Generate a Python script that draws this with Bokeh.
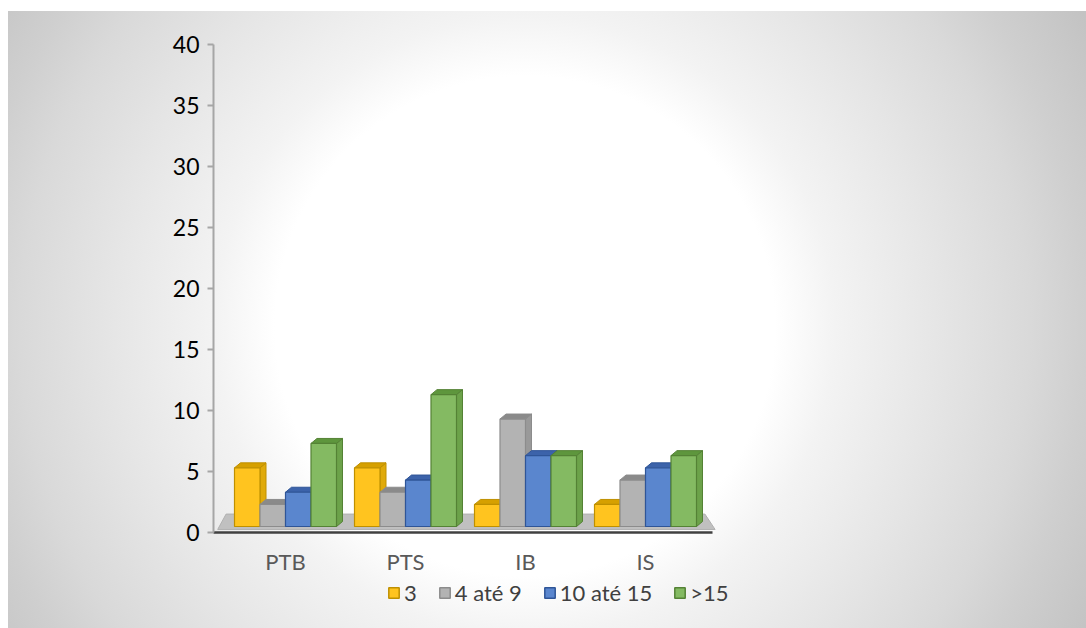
import numpy as np
from bokeh.plotting import figure
from bokeh.layouts import column
from bokeh.models import Range1d, FixedTicker, Legend, LegendItem, ColumnDataSource
from bokeh.embed import file_html
from bokeh.resources import INLINE

# ---- data ----
categories = ["PTB", "PTS", "IB", "IS"]
series_names = ["3", "4 até 9", "10 até 15", ">15"]
vals_3 = [5, 5, 2, 2]
vals_4_9 = [2, 3, 9, 4]
vals_10_15 = [3, 4, 6, 5]
vals_gt15 = [7, 11, 6, 6]
y_ticks = [0, 5, 10, 15, 20, 25, 30, 35, 40]

series_values = [vals_3, vals_4_9, vals_10_15, vals_gt15]

# ---- styles ----
front_colors = ["#FFC41F", "#B3B3B3", "#5A86CE", "#84BA62"]
top_colors = ["#D6A000", "#8A8A8A", "#3C63AA", "#5E963D"]
side_colors = ["#E0AA0A", "#999999", "#4670B8", "#6CA24A"]
line_colors = ["#BF9000", "#8C8C8C", "#2F5597", "#548235"]
FONT = "Lato"

BAR_W = 0.2125       # width of a bar in category units
DX, DY = 0.05, 0.41  # oblique depth offset (x units, y units)
BASE = 0.49          # front-face floor level
TOP_PAD = 0.3
PX_PER_CAT = 120.0
X0 = -0.6
FRAME_W = 590
BL, BR = 205, 1078 - 205 - FRAME_W

p = figure(width=1078, height=579, output_backend="svg", toolbar_location=None,
           x_range=Range1d(X0, X0 + FRAME_W / PX_PER_CAT), y_range=Range1d(0, 40),
           min_border_left=BL, min_border_right=BR, min_border_top=33, min_border_bottom=58,
           background_fill_color=None, border_fill_color=None, outline_line_color=None)
p.grid.visible = False

n = len(categories)
centers = np.arange(n, dtype=float)

# floor plane
fl_left = centers[0] - 2 * BAR_W - 0.07
fl_right = centers[-1] + 2 * BAR_W + 0.07
p.patch([fl_left, fl_right, fl_right + 0.085, fl_left - 0.07],
        [BASE + 0.2 + DY * 2, BASE + 0.2 + DY * 2, 0.25, 0.25],
        fill_color="#C0C0C0", line_color="#B0B0B0", line_width=1)

for k, (name, vals) in enumerate(zip(series_names, series_values)):
    v = np.array(vals, dtype=float)
    left = centers - 2 * BAR_W + k * BAR_W
    right = left + BAR_W
    top = v + TOP_PAD
    bottom = np.full(n, BASE)
    side_xs = [[r, r + DX, r + DX, r] for r in right]
    side_ys = [[b, b + DY, t + DY, t] for b, t in zip(bottom, top)]
    cap_xs = [[l, l + DX, r + DX, r] for l, r in zip(left, right)]
    cap_ys = [[t, t + DY, t + DY, t] for t in top]
    p.patches(side_xs, side_ys, fill_color=side_colors[k], line_color=line_colors[k], line_width=1)
    p.patches(cap_xs, cap_ys, fill_color=top_colors[k], line_color=line_colors[k], line_width=1)
    src = ColumnDataSource(dict(left=left, right=right, top=top, bottom=bottom))
    p.quad(left="left", right="right", top="top", bottom="bottom", source=src,
           fill_color=front_colors[k], line_color=line_colors[k], line_width=1.2)

# axes
p.yaxis.ticker = FixedTicker(ticks=y_ticks)
p.yaxis.axis_line_color = "#A6A6A6"
p.yaxis.axis_line_width = 2
p.yaxis.major_tick_line_color = "#A6A6A6"
p.yaxis.major_tick_line_width = 2
p.yaxis.major_tick_out = 6
p.yaxis.major_tick_in = 0
p.yaxis.minor_tick_line_color = None
p.yaxis.major_label_text_font = FONT
p.yaxis.major_label_text_font_size = "23px"
p.yaxis.major_label_text_color = "#000000"
p.yaxis.major_label_standoff = 8

p.xaxis.ticker = FixedTicker(ticks=list(centers))
p.xaxis.major_label_overrides = {float(i): c for i, c in enumerate(categories)}
p.xaxis.major_label_overrides.update({i: c for i, c in enumerate(categories)})
p.xaxis.bounds = (X0, X0 + 499 / PX_PER_CAT)
p.xaxis.axis_line_color = "#404040"
p.xaxis.axis_line_width = 2.5
p.xaxis.major_tick_line_color = None
p.xaxis.minor_tick_line_color = None
p.xaxis.major_label_text_font = FONT
p.xaxis.major_label_text_font_size = "22px"
p.xaxis.major_label_text_color = "#595959"
p.xaxis.major_label_standoff = 9

# ---- legend strip (separate figure below the chart) ----
pl = figure(width=1078, height=49, output_backend="svg", toolbar_location=None,
            x_range=Range1d(0, 1), y_range=Range1d(0, 1), x_axis_type=None, y_axis_type=None,
            min_border_left=BL, min_border_right=BR, min_border_top=0, min_border_bottom=0,
            background_fill_color=None, border_fill_color=None, outline_line_color=None)
pl.margin = (-11, 0, 0, 0)
pl.grid.visible = False
items = []
for k, name in enumerate(series_names):
    # legend swatch proxy (kept out of view; only its style is shown in the legend)
    r = pl.quad(left=[2], right=[3], top=[2], bottom=[1.5],
                fill_color=front_colors[k], line_color=line_colors[k], line_width=1.5)
    items.append(LegendItem(label=name, renderers=[r]))

legend = Legend(items=items, orientation="horizontal", location=(174, 22),
                glyph_width=13, glyph_height=13, label_standoff=4, label_width=0,
                spacing=21, padding=0, margin=0,
                label_text_font=FONT, label_text_font_size="22px", label_text_color="#404040",
                background_fill_alpha=0, border_line_color=None)
pl.add_layout(legend, "center")

layout = column(p, pl, spacing=0)
layout.styles = {
    "margin-left": "8px",
    "margin-top": "11px",
    "background": "radial-gradient(circle at 517px 315px, #ffffff 0px, #ffffff 250px, "
                  "#f3f3f3 310px, #e6e6e6 410px, #d9d9d9 505px, #cfcfcf 560px, #c3c3c3 640px)",
}

open("out.html", "w").write(file_html(layout, INLINE))
